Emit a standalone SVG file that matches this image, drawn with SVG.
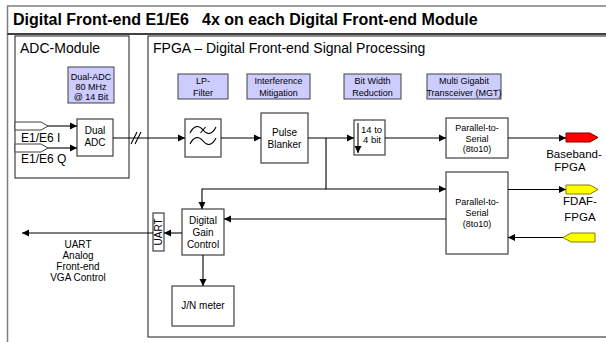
<svg xmlns="http://www.w3.org/2000/svg" width="606" height="342" viewBox="0 0 606 342">
<defs>
<marker id="ah" markerWidth="8" markerHeight="8" refX="7" refY="4" orient="auto" markerUnits="userSpaceOnUse"><path d="M0,0.5 L7,4 L0,7.5 Z" fill="#000"/></marker>
</defs>
<style>
text{font-family:"Liberation Sans",Arial,sans-serif;fill:#000}
.box{fill:#fff;stroke:#404040;stroke-width:1.2}
.lab{fill:#ccccff;stroke:#404040;stroke-width:1}
.ln{fill:none;stroke:#000;stroke-width:1.1}
.arr{fill:none;stroke:#000;stroke-width:1.1;marker-end:url(#ah)}
.s{font-size:9px;text-anchor:middle}
.m{font-size:10px;text-anchor:middle}
.l{font-size:11.5px;text-anchor:middle}
.h{font-size:14px}
</style>
<rect x="0" y="0" width="606" height="342" fill="#fff"/>
<g id="frame">
<path d="M606,6 H7.5 V342" fill="none" stroke="#808080" stroke-width="1.5"/>
<line x1="7.5" y1="34" x2="606" y2="34" stroke="#000" stroke-width="1.3"/>
<text x="13" y="25" font-size="16" font-weight="bold">Digital Front-end E1/E6</text>
<text x="202" y="25" font-size="16" font-weight="bold">4x on each Digital Front-end Module</text>
</g>
<g id="adc-module">
<rect class="box" x="15" y="36" width="114" height="142"/>
<text class="h" x="20" y="53">ADC-Module</text>
</g>
<g id="fpga">
<rect class="box" x="148" y="36" width="470" height="301"/>
<text class="h" x="153" y="53">FPGA – Digital Front-end Signal Processing</text>
</g>
<g id="label-dual-adc">
<rect class="lab" x="68" y="67" width="46" height="36"/>
<text class="s" x="91" y="80">Dual-ADC</text>
<text class="s" x="91" y="90">80 MHz</text>
<text class="s" x="91" y="100">@ 14 Bit</text>
</g>
<g id="label-lp">
<rect class="lab" x="178" y="74" width="50" height="25"/>
<text class="s" x="203" y="84">LP-</text>
<text class="s" x="203" y="95.5">Filter</text>
</g>
<g id="label-im">
<rect class="lab" x="247" y="74" width="63" height="25"/>
<text class="s" x="278.5" y="84" font-size="9.5">Interference</text>
<text class="s" x="278.5" y="95.5" font-size="9.5">Mitigation</text>
</g>
<g id="label-bw">
<rect class="lab" x="344" y="74" width="57" height="25"/>
<text class="s" x="372.5" y="84">Bit Width</text>
<text class="s" x="372.5" y="95.5">Reduction</text>
</g>
<g id="label-mgt">
<rect class="lab" x="427" y="74" width="74" height="25"/>
<text class="s" x="464" y="84">Multi Gigabit</text>
<text class="s" x="464" y="95.5">Transceiver (MGT)</text>
</g>
<g id="input-i">
<polygon points="15,122 41,122 48,126 41,130 15,130" fill="#fff" stroke="#404040" stroke-width="1"/>
<text x="21" y="142" font-size="12">E1/E6 I</text>
</g>
<g id="input-q">
<polygon points="15,144 41,144 48,148 41,152 15,152" fill="#fff" stroke="#404040" stroke-width="1"/>
<text x="21" y="163" font-size="12">E1/E6 Q</text>
</g>
<g id="dual-adc">
<rect class="box" x="77" y="119" width="36" height="37"/>
<text class="m" x="95" y="134">Dual</text>
<text class="m" x="95" y="146">ADC</text>
</g>
<g id="lp-filter">
<rect class="box" x="185" y="119" width="36" height="38"/>
<path class="ln" d="M190,133 C194,125 199,125 203,130 C207,135 212,135 216,127"/>
<path class="ln" d="M190,144 C194,136 199,136 203,141 C207,146 212,146 216,138"/>
<path class="ln" d="M200.5,133 L205.5,127"/>
</g>
<g id="pulse-blanker">
<rect class="box" x="261" y="113" width="47" height="50"/>
<text class="m" x="284.5" y="136">Pulse</text>
<text class="m" x="284.5" y="148">Blanker</text>
</g>
<g id="bit-reduction">
<rect class="box" x="354" y="120" width="31" height="35"/>
<path class="arr" d="M358,123 V153"/>
<text x="361" y="133" font-size="9.5">14 to</text>
<text x="363" y="143" font-size="9.5">4 bit</text>
</g>
<g id="p2s-1">
<rect class="box" x="446" y="118" width="62" height="40"/>
<text class="s" x="477" y="131">Parallel-to-</text>
<text class="s" x="477" y="141.5">Serial</text>
<text class="s" x="477" y="152">(8to10)</text>
</g>
<g id="p2s-2">
<rect class="box" x="446" y="172" width="62" height="82"/>
<text class="s" x="477" y="205">Parallel-to-</text>
<text class="s" x="477" y="216">Serial</text>
<text class="s" x="477" y="227">(8to10)</text>
</g>
<g id="baseband-out">
<polygon points="566,133 590,133 598,137.5 590,142 566,142" fill="#ff0000" stroke="#800000" stroke-width="1"/>
<text class="l" x="574" y="158">Baseband-</text>
<text class="l" x="570" y="170.5">FPGA</text>
</g>
<g id="fdaf-out">
<polygon points="566,185 590,185 598,189.5 590,194 566,194" fill="#ffff00" stroke="#808000" stroke-width="1"/>
<text class="l" x="580" y="205">FDAF-</text>
<text class="l" x="580" y="221">FPGA</text>
</g>
<g id="fdaf-in">
<polygon points="563,237.5 571,233 595,233 595,242 571,242" fill="#ffff00" stroke="#808000" stroke-width="1"/>
</g>
<g id="dgc">
<rect class="box" x="182" y="209" width="42" height="46"/>
<text class="m" x="203" y="224">Digital</text>
<text class="m" x="203" y="236">Gain</text>
<text class="m" x="203" y="248">Control</text>
</g>
<g id="uart">
<rect class="box" x="153" y="213" width="11" height="38"/>
<text class="m" transform="translate(162,232) rotate(-90)">UART</text>
</g>
<g id="uart-label">
<text class="m" x="78" y="248">UART</text>
<text class="m" x="78" y="259">Analog</text>
<text class="m" x="78" y="270">Front-end</text>
<text class="m" x="78" y="281">VGA Control</text>
</g>
<g id="jn-meter">
<rect class="box" x="172" y="286" width="62" height="40"/>
<text class="m" x="203" y="309">J/N meter</text>
</g>
<g id="connectors">
<path class="arr" d="M48,126 H77"/>
<path class="arr" d="M48,148 H77"/>
<path class="arr" d="M113,138 H185"/>
<path class="ln" d="M131,144 L137,132 M135,144 L141,132"/>
<path class="arr" d="M221,138 H261"/>
<path class="arr" d="M308,138 H354"/>
<path class="arr" d="M326,138 V189 H446"/>
<path class="arr" d="M326,189 H202 V209"/>
<path class="arr" d="M385,138 H446"/>
<path class="arr" d="M508,138 H566"/>
<path class="arr" d="M508,189.5 H566"/>
<path class="arr" d="M563,237.5 H508"/>
<path class="arr" d="M446,219 H224"/>
<path class="arr" d="M182,233 H164"/>
<path class="arr" d="M153,233 H22"/>
<path class="arr" d="M203,255 V286"/>
</g>
</svg>
